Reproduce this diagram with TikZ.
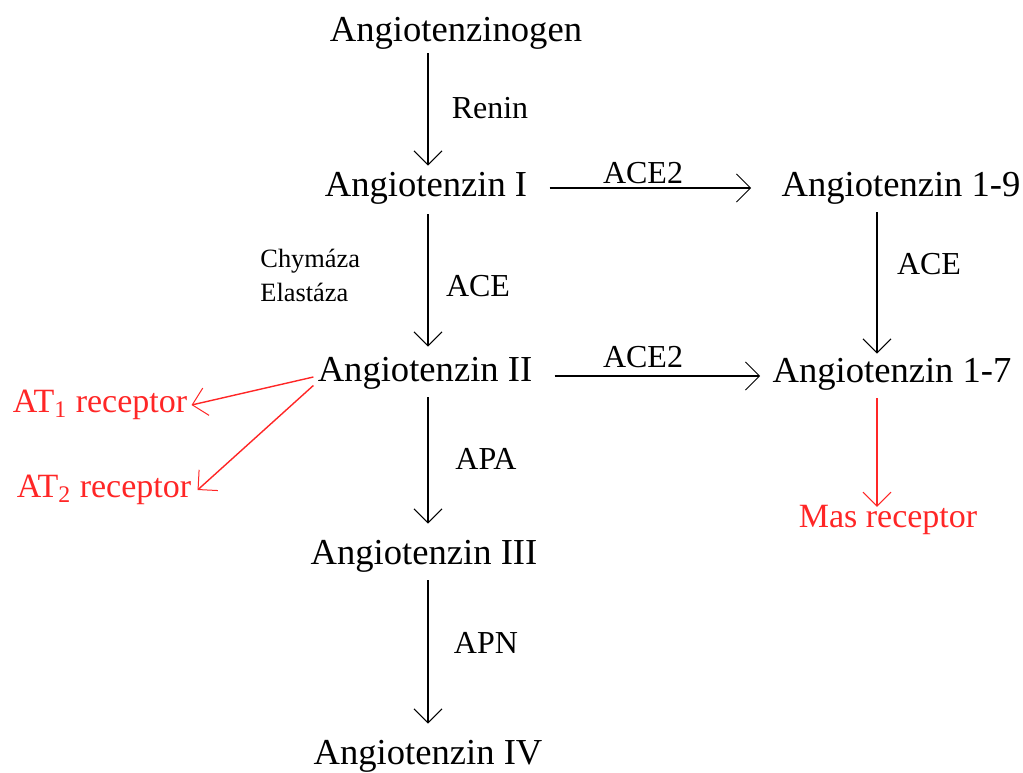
\documentclass[tikz,border=0pt]{standalone}
\usepackage{fontspec}
\setmainfont{Liberation Serif}
\usetikzlibrary{arrows.meta,positioning}

\begin{document}
\begin{tikzpicture}[
  x=0.5pt, y=-0.5pt,
  molecule/.style={
    inner sep=0pt,
    font=\fontsize{18.3}{22}\selectfont
  },
  enzyme/.style={
    inner sep=0pt,
    font=\fontsize{16}{19}\selectfont
  },
  receptor/.style={
    inner sep=0pt,
    text=red!85!white,
    font=\fontsize{17}{20}\selectfont
  },
  conv/.style={
    line width=0.7pt,
    -{Straight Barb[length=7pt,width=14pt,line width=0.5pt]}
  },
  bind/.style={
    conv,
    draw=red!85!white
  }]
  \useasboundingbox (0,0) rectangle (1023,772);

  % molecules
  \node[molecule] (angen) at (456,33) {Angiotenzinogen};
  \node[molecule] (angI) at (426,188) {Angiotenzin I};
  \node[molecule] (ang19) at (901,188) {Angiotenzin 1-9};
  \node[molecule] (angII) at (425,373) {Angiotenzin II};
  \node[molecule] (ang17) at (892,374) {Angiotenzin 1-7};
  \node[molecule] (angIII) at (424,556) {Angiotenzin III};
  \node[molecule] (angIV) at (428,756) {Angiotenzin IV};

  % enzymes
  \node[enzyme] (renin) at (490,108) {Renin};
  \node[enzyme] (ace2a) at (643,173) {ACE2};
  \node[enzyme] (ace) at (478,286) {ACE};
  \node[enzyme] (ace19) at (929,264) {ACE};
  \node[enzyme] (ace2b) at (643,357) {ACE2};
  \node[enzyme] (apa) at (486,459) {APA};
  \node[enzyme] (apn) at (486,643) {APN};
  \node[inner sep=0pt, anchor=west, align=left,
    font=\fontsize{13.2}{17}\selectfont] (chym) at (260,275)
    {Chymáza\\Elastáza};

  % receptors
  \node[receptor] (at1) at (100,405) {AT\textsubscript{1} receptor};
  \node[receptor] (at2) at (104,490) {AT\textsubscript{2} receptor};
  \node[receptor] (mas) at (888,520) {Mas receptor};

  % main column, x = 428
  \coordinate (col) at (428,0);
  \draw[conv] ([yshift=-2pt]angen.south -| col) -- ([yshift=3pt]angI.north -| col);
  \draw[conv] ([yshift=-5pt]angI.south -| col) -- ([yshift=5pt]angII.north -| col);
  \draw[conv] ([yshift=-4pt]angII.south -| col) -- ([yshift=8pt]angIII.north -| col);
  \draw[conv] ([yshift=-4pt]angIII.south -| col) -- ([yshift=8pt]angIV.north -| col);
  % right column, x = 877
  \coordinate (rcol) at (877,0);
  \draw[conv] ([yshift=-4pt]ang19.south -| rcol) -- ([yshift=2pt]ang17.north -| rcol);
  \draw[bind] ([yshift=-4pt]ang17.south -| rcol) -- ([yshift=-1pt]mas.north -| rcol);
  % ACE2 branches
  \draw[conv, shorten <=11pt, shorten >=15pt] (angI.east) -- (ang19.west);
  \draw[conv, shorten <=11pt, shorten >=6pt] ([yshift=-1.5pt]angII.east) -- ([yshift=-1pt]ang17.west);
  % receptors of Angiotenzin II
  \draw[bind] ([xshift=-2pt,yshift=-2pt]angII.west) -- ([xshift=2pt]at1.east);
  \draw[bind] ([xshift=-2pt,yshift=2pt]angII.south west) -- ([xshift=3pt]at2.east);
\end{tikzpicture}
\end{document}
